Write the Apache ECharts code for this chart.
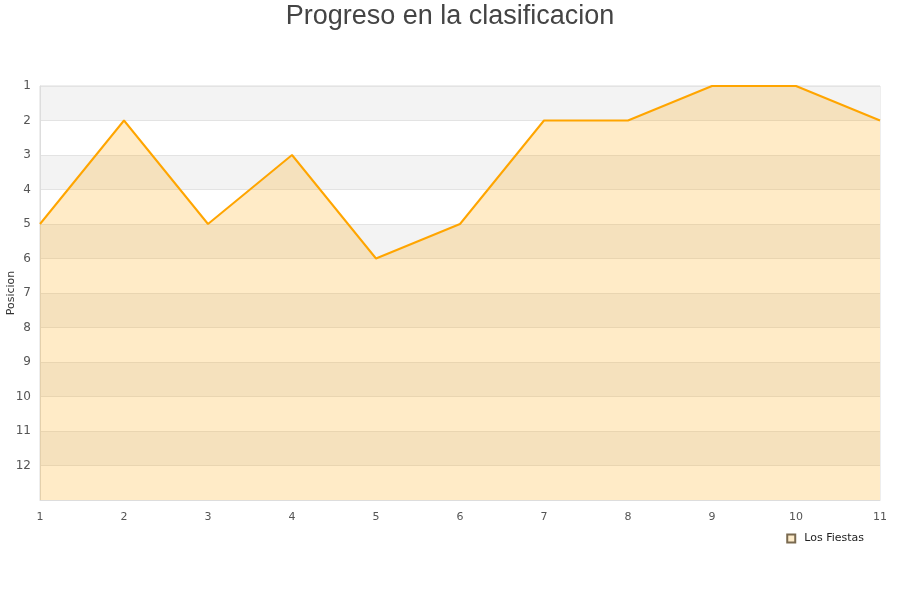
<!DOCTYPE html>
<html><head><meta charset="utf-8">
<script src="https://cdn.jsdelivr.net/npm/echarts@6/dist/echarts.min.js"></script>
<style>html,body{margin:0;padding:0;background:#fff}#c{width:900px;height:600px}</style>
</head><body><div id="c"></div>
<script>
const jornadas = ['1','2','3','4','5','6','7','8','9','10','11'];
const posiciones = [5, 2, 5, 3, 6, 5, 2, 2, 1, 1, 2];
const titulo = 'Progreso en la clasificacion';
const serieNombre = 'Los Fiestas';
const ejeY = 'Posicion';

const chart = echarts.init(document.getElementById('c'), null, {renderer: 'canvas'});
chart.setOption({
  animation: false,
  backgroundColor: '#fff',
  title: {
    text: titulo, left: 'center', top: -2,
    textStyle: {fontFamily: 'Liberation Sans', fontSize: 27, fontWeight: 'normal', color: '#444'}
  },
  legend: {
    data: [{name: serieNombre, icon: 'rect'}],
    right: 31, top: 528, itemWidth: 8, itemHeight: 8, itemGap: 6,
    textStyle: {fontFamily: 'DejaVu Sans', fontSize: 11, color: '#222', padding: [0, 0, 0, 4]}
  },
  grid: {left: 40, right: 20, top: 86, bottom: 100, containLabel: false, outerBoundsMode: 'none',
    show: true, borderColor: '#ddd', borderWidth: 1, backgroundColor: 'transparent'},
  xAxis: {
    type: 'category', data: jornadas, boundaryGap: false,
    axisLine: {lineStyle: {color: '#ddd'}}, axisTick: {show: false},
    axisLabel: {color: '#555', fontFamily: 'DejaVu Sans', fontSize: 11, margin: 12},
    splitLine: {show: false}
  },
  yAxis: {
    type: 'value', inverse: true, min: 1, max: 13, interval: 1,
    name: ejeY, nameLocation: 'middle', nameGap: 23, nameRotate: 90, nameMoveOverlap: false,
    nameTextStyle: {color: '#333', fontFamily: 'DejaVu Sans', fontSize: 11},
    axisLine: {show: true, lineStyle: {color: '#ddd'}}, axisTick: {show: false},
    axisLabel: {color: '#555', fontFamily: 'DejaVu Sans', fontSize: 12, margin: 9,
      formatter: v => (v >= 13 ? '' : String(v))},
    splitLine: {show: true, lineStyle: {color: '#e3e3e3'}},
    splitArea: {show: true, areaStyle: {color: ['#f3f3f3', '#ffffff']}}
  },
  series: [{
    name: serieNombre, type: 'line', data: posiciones,
    showSymbol: false, symbol: 'none',
    lineStyle: {color: '#FFA500', width: 2},
    itemStyle: {color: '#fdebc9', borderColor: '#7a6a50', borderWidth: 1},
    areaStyle: {color: '#FFA500', opacity: 0.22, origin: 'end'}
  }]
});
</script></body></html>
